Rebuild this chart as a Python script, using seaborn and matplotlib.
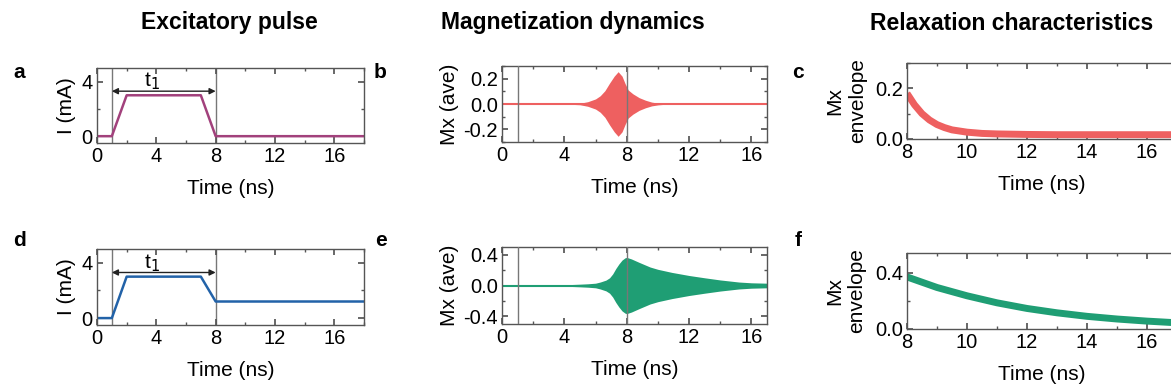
import numpy as np
import pandas as pd
import matplotlib
matplotlib.use("Agg")
import matplotlib.pyplot as plt
from matplotlib.ticker import MultipleLocator
import seaborn as sns

# ---- data -------------------------------------------------------------
# excitatory current pulses (ns, mA)
pulse_time = [0, 1, 2, 7, 8, 18]
pulse_a = [0, 0, 3, 3, 0, 0]
pulse_d = [0, 0, 3, 3, 1.2, 1.2]

# oscillation envelopes of Mx (ave)
mx_b_time = [0, 1, 2, 3, 4, 4.5, 5.0, 5.5, 6.0, 6.3, 6.6, 6.9, 7.2, 7.45,
             7.7, 7.9, 8.1, 8.4, 8.8, 9.2, 9.6, 10.0, 10.4, 11, 12, 14, 17]
mx_b_env = [0.002, 0.002, 0.002, 0.002, 0.002, 0.003, 0.006, 0.018, 0.04,
            0.065, 0.105, 0.165, 0.22, 0.255, 0.22, 0.16, 0.11, 0.08, 0.05,
            0.03, 0.015, 0.007, 0.003, 0.002, 0.002, 0.002, 0.002]

mx_e_time = [0, 1, 2, 3, 4, 4.5, 5.0, 5.5, 6.0, 6.3, 6.67, 6.9, 7.1, 7.3,
             7.5, 7.7, 7.9, 8.0, 8.3, 8.8, 9.5, 10.0, 10.9, 12.0, 13.0,
             14.0, 15.2, 16.0, 17.0]
mx_e_env = [0.008, 0.008, 0.008, 0.009, 0.010, 0.013, 0.017, 0.022, 0.030,
            0.045, 0.07, 0.10, 0.15, 0.22, 0.28, 0.33, 0.36, 0.365, 0.345,
            0.30, 0.24, 0.21, 0.17, 0.13, 0.10, 0.072, 0.045, 0.035, 0.03]

# relaxation envelopes after the pulse
env_c_time = [8, 8.25, 8.5, 8.75, 9, 9.25, 9.5, 10, 10.5, 11, 12, 13, 14,
              15, 16, 17, 18]
env_c = [0.18, 0.135, 0.10, 0.075, 0.057, 0.045, 0.036, 0.027, 0.022,
         0.020, 0.018, 0.017, 0.017, 0.017, 0.017, 0.017, 0.017]

env_f_time = [8, 9, 10, 11, 12, 13, 14, 15, 16, 17, 18]
env_f = [0.37, 0.295, 0.236, 0.186, 0.146, 0.115, 0.090, 0.071, 0.056,
         0.044, 0.035]

titles = ["Excitatory pulse", "Magnetization dynamics",
          "Relaxation characteristics"]
letters = ["a", "b", "c", "d", "e", "f"]

# ---- style ------------------------------------------------------------
sns.set_theme(style="ticks")
plt.rcParams["font.family"] = ["Liberation Sans", "DejaVu Sans"]
plt.rcParams.update({
    "text.color": "black",
    "axes.labelcolor": "black",
    "axes.edgecolor": "#555555",
    "axes.linewidth": 1.0,
    "xtick.direction": "in",
    "ytick.direction": "in",
    "xtick.color": "#555555",
    "ytick.color": "#555555",
    "xtick.labelcolor": "black",
    "ytick.labelcolor": "black",
    "xtick.major.size": 4,
    "ytick.major.size": 4,
    "xtick.minor.size": 2.5,
    "ytick.minor.size": 2.5,
    "xtick.minor.visible": True,
    "ytick.minor.visible": True,
    "xtick.labelsize": 14.5,
    "ytick.labelsize": 14.5,
    "axes.labelsize": 15,
})

RED = "#EE6060"
GREEN = "#1F9E74"
PURPLE = "#A2417C"
BLUE = "#2262A8"
VLINE = "#777777"

W, H = 1171, 392
fig = plt.figure(figsize=(W / 100, H / 100), dpi=100)


def add_axes(left, right, top, bottom):
    return fig.add_axes([left / W, 1 - bottom / H, (right - left) / W,
                         (bottom - top) / H])


ax_a = add_axes(97, 364, 68, 143)
ax_b = add_axes(502, 767, 66, 142)
ax_c = add_axes(907, 1177, 63, 139)
ax_d = add_axes(97, 364, 249, 325)
ax_e = add_axes(502, 767, 247, 324)
ax_f = add_axes(907, 1177, 253, 329)

# ---- pulse panels -----------------------------------------------------
for ax, cur, col in [(ax_a, pulse_a, PURPLE), (ax_d, pulse_d, BLUE)]:
    df = pd.DataFrame({"t": pulse_time, "I": cur})
    sns.lineplot(data=df, x="t", y="I", ax=ax, color=col, lw=1.8)
    for xv in (1, 8):
        ax.axvline(xv, color=VLINE, lw=1.0, zorder=0)
    ax.annotate("", xy=(1, 3.3), xytext=(8, 3.3),
                arrowprops=dict(arrowstyle="<|-|>", color="#222222", lw=1.0,
                                mutation_scale=9, shrinkA=0, shrinkB=0))
    ax.text(3.7, 4.0, "t$_1$", ha="center", va="center", fontsize=15)
    ax.set_xlim(0, 18)
    ax.set_ylim(-0.5, 5)
    ax.xaxis.set_major_locator(MultipleLocator(4))
    ax.xaxis.set_minor_locator(MultipleLocator(2))
    ax.yaxis.set_major_locator(MultipleLocator(4))
    ax.yaxis.set_minor_locator(MultipleLocator(2))
    ax.set_ylabel("I (mA)", labelpad=4)

# ---- magnetization panels ---------------------------------------------
for ax, tt, env, col, lim, major, minor in [
        (ax_b, mx_b_time, mx_b_env, RED, 0.3, 0.2, 0.1),
        (ax_e, mx_e_time, mx_e_env, GREEN, 0.5, 0.4, 0.2)]:
    env = np.asarray(env)
    ax.fill_between(tt, -env, env, color=col, lw=0)
    df = pd.DataFrame({"t": tt, "m": np.zeros(len(tt))})
    sns.lineplot(data=df, x="t", y="m", ax=ax, color=col, lw=1.5)
    for xv in (1, 8):
        ax.axvline(xv, color=VLINE, lw=1.0, zorder=3)
    ax.set_xlim(0, 17)
    ax.set_ylim(-lim, lim)
    ax.xaxis.set_major_locator(MultipleLocator(4))
    ax.xaxis.set_minor_locator(MultipleLocator(2))
    ax.yaxis.set_major_locator(MultipleLocator(major))
    ax.yaxis.set_minor_locator(MultipleLocator(minor))
    ax.yaxis.set_major_formatter(lambda v, p: f"{v:.1f}".replace("-0.0", "0.0"))
    ax.set_ylabel("Mx (ave)", labelpad=3)

# ---- relaxation envelopes ---------------------------------------------
for ax, tt, env, col, top in [(ax_c, env_c_time, env_c, RED, 0.3),
                              (ax_f, env_f_time, env_f, GREEN, 0.54)]:
    df = pd.DataFrame({"t": tt, "env": env})
    sns.lineplot(data=df, x="t", y="env", ax=ax, color=col, lw=5,
                 solid_capstyle="butt")
    ax.set_xlim(8, 17)
    ax.set_ylim(0, top)
    ax.xaxis.set_major_locator(MultipleLocator(2))
    ax.xaxis.set_minor_locator(MultipleLocator(1))
    ax.yaxis.set_major_locator(MultipleLocator(0.2 if top < 0.4 else 0.4))
    ax.yaxis.set_minor_locator(MultipleLocator(0.1 if top < 0.4 else 0.2))
    ax.yaxis.set_major_formatter(lambda v, p: f"{v:.1f}")
    ax.set_ylabel("Mx\nenvelope", labelpad=6, linespacing=1.25)

for ax in (ax_a, ax_b, ax_c, ax_d, ax_e, ax_f):
    ax.set_xlabel("Time (ns)", labelpad=9)
    ax.tick_params(which="both", top=True, right=True, labeltop=False,
                   labelright=False, pad=3)
    for s in ax.spines.values():
        s.set_visible(True)

# ---- titles and panel letters -----------------------------------------
for x, t in zip([229, 573, 1012], titles):
    fig.text(x / W, 1 - 23 / H, t, ha="center", va="center", fontsize=16.5,
             fontweight="bold")

for (x, y), l in zip([(19, 73), (380, 73), (798, 73),
                      (19, 240), (381, 240), (798, 240)], letters):
    fig.text(x / W, 1 - y / H, l, ha="center", va="center", fontsize=15,
             fontweight="bold")

fig.savefig("out.png", dpi=100)
